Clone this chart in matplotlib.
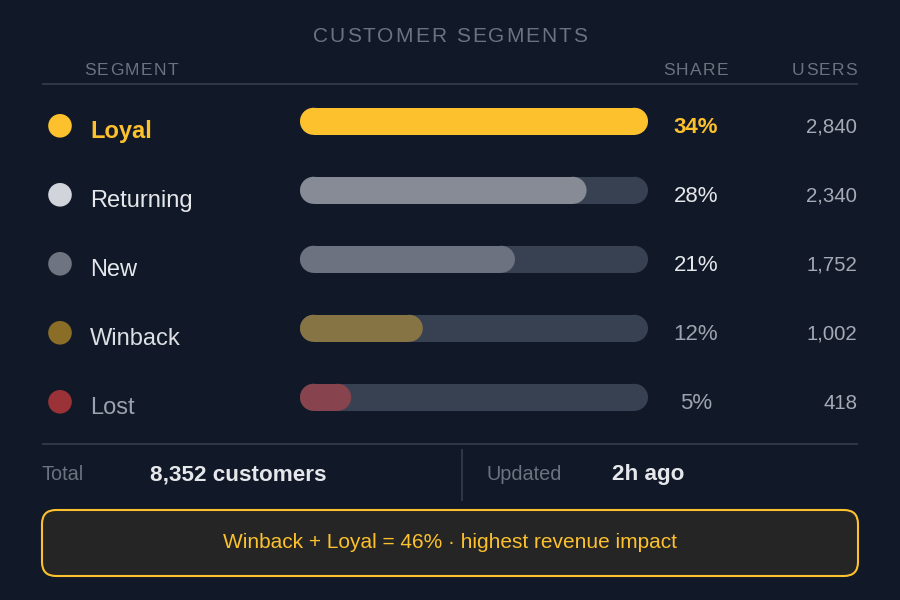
import matplotlib
matplotlib.use("Agg")
import matplotlib.pyplot as plt
from matplotlib.patches import FancyBboxPatch, Circle, Rectangle

# ---------------- data ----------------
title = "CUSTOMER SEGMENTS"
col_headers = ["SEGMENT", "SHARE", "USERS"]
segments = ["Loyal", "Returning", "New", "Winback", "Lost"]
shares = [34, 28, 21, 12, 5]
users = [2840, 2340, 1752, 1002, 418]
total_label = "Total"
total_customers = 8352
updated_label = "Updated"
updated_value = "2h ago"
callout = "Winback + Loyal = 46% \u00b7 highest revenue impact"

# ---------------- styles ----------------
BG = "#111827"
TRACK = "#374151"
GRID = "#2f3846"
HEAD = "#6b7280"
YEL = "#fcc12d"
dot_colors = [YEL, "#d1d5db", "#6e7480", "#8a6e28", "#9b3238"]
bar_colors = [YEL, "#868b96", "#6c7280", "#877444", "#87444e"]
label_colors = [YEL, "#e5e7eb", "#e5e7eb", "#dcdfe4", "#9ca3af"]
label_weights = ["bold", "normal", "normal", "normal", "normal"]
share_colors = [YEL, "#e5e7eb", "#e5e7eb", "#9ca3af", "#9ca3af"]
share_weights = ["bold", "normal", "normal", "normal", "normal"]
users_color = "#a5abb6"
FONT = "Liberation Sans"

fig = plt.figure(figsize=(9, 6), dpi=100, facecolor=BG)
ax = fig.add_axes([0, 0, 1, 1])
ax.set_xlim(0, 900)
ax.set_ylim(600, 0)
ax.set_facecolor(BG)
ax.axis("off")
renderer = fig.canvas.get_renderer()


def text_w(s, size, weight="normal"):
    t = ax.text(0, 0, s, fontsize=size, family=FONT, fontweight=weight)
    w = t.get_window_extent(renderer).width
    t.remove()
    return w


def spaced(x, y, s, size, color, sp, ha="left", weight="normal"):
    total = text_w(s, size, weight) + sp * (len(s) - 1)
    if ha == "center":
        x0 = x - total / 2
    elif ha == "right":
        x0 = x - total
    else:
        x0 = x
    for i, ch in enumerate(s):
        if ch == " ":
            continue
        pre = text_w(s[:i + 1], size, weight) - text_w(ch, size, weight) if i > 0 else 0
        ax.text(x0 + pre + i * sp, y, ch, fontsize=size, family=FONT,
                color=color, fontweight=weight, ha="left", va="baseline")


def pill(x, yc, w, h, color):
    r = h / 2
    ax.add_patch(Rectangle((x + r, yc - r), max(w - 2 * r, 0), h, fc=color, ec="none", lw=0))
    ax.add_patch(Circle((x + r, yc), r, fc=color, ec="none", lw=0))
    ax.add_patch(Circle((x + w - r, yc), r, fc=color, ec="none", lw=0))


# title
spaced(450, 42, title, 15, HEAD, 2.0, ha="center")

# column headers
spaced(84, 75, col_headers[0], 12.5, HEAD, 1.4, ha="left")
spaced(695.5, 75, col_headers[1], 12.5, HEAD, 1.3, ha="center")
spaced(857, 75, col_headers[2], 12.5, HEAD, 1.3, ha="right")

# separators
ax.plot([42, 858], [83.5, 83.5], color=GRID, lw=1.4, solid_capstyle="butt")
ax.plot([42, 858], [443.5, 443.5], color=GRID, lw=1.4, solid_capstyle="butt")

# rows
row0, step = 121.3, 69
track_x, track_w, bar_h = 300, 348, 27
max_share = max(shares)
for i, (seg, sh, us) in enumerate(zip(segments, shares, users)):
    yc = row0 + step * i
    ax.add_patch(Circle((60, yc + 4.5), 11.8, color=dot_colors[i], lw=0))
    ax.text(90, yc + 17, seg, fontsize=17, family=FONT, color=label_colors[i],
            fontweight=label_weights[i], ha="left", va="baseline")
    pill(track_x, yc, track_w, bar_h, TRACK)
    pill(track_x, yc, sh / max_share * track_w, bar_h, bar_colors[i])
    ax.text(696, yc + 12, f"{sh}%", fontsize=16, family=FONT, color=share_colors[i],
            fontweight=share_weights[i], ha="center", va="baseline")
    ax.text(857, yc + 11.5, f"{us:,}", fontsize=14.7, family=FONT, color=users_color,
            ha="right", va="baseline")

# footer
ax.text(42, 480, total_label, fontsize=14.3, family=FONT, color=HEAD, ha="left", va="baseline")
ax.text(150, 480, f"{total_customers:,} customers", fontsize=16.2, family=FONT,
        color="#e5e7eb", fontweight="bold", ha="left", va="baseline")
ax.plot([462, 462], [450, 500], color=GRID, lw=1.4)
ax.text(487, 480, updated_label, fontsize=14.3, family=FONT, color=HEAD, ha="left", va="baseline")
ax.text(612, 480, updated_value, fontsize=16.2, family=FONT, color="#e5e7eb",
        fontweight="bold", ha="left", va="baseline")

# callout
ax.add_patch(FancyBboxPatch((42, 510), 816, 66, boxstyle="round,pad=0,rounding_size=14",
                            fc="#252526", ec=YEL, lw=1.5))
ax.text(450, 548, callout, fontsize=15, family=FONT, color=YEL, ha="center", va="baseline")

fig.savefig("out.png", dpi=100, facecolor=BG)
